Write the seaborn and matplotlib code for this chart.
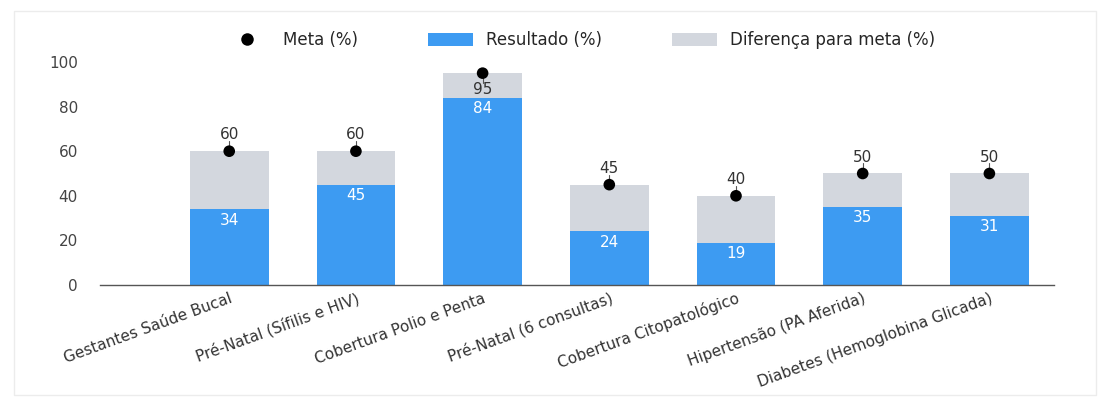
import numpy as np
import pandas as pd
import matplotlib
matplotlib.use("Agg")
import matplotlib.pyplot as plt
from matplotlib.patches import Rectangle, Patch
from matplotlib.lines import Line2D
import seaborn as sns

categorias = [
    "Gestantes Saúde Bucal",
    "Pré-Natal (Sífilis e HIV)",
    "Cobertura Polio e Penta",
    "Pré-Natal (6 consultas)",
    "Cobertura Citopatológico",
    "Hipertensão (PA Aferida)",
    "Diabetes (Hemoglobina Glicada)",
]
resultado = [34, 45, 84, 24, 19, 35, 31]
meta = [60, 60, 95, 45, 40, 50, 50]

AZUL = "#3d9bf2"
CINZA = "#d3d7de"

sns.set_theme(style="white")
plt.rcParams["font.family"] = ["DejaVu Sans"]

df = pd.DataFrame({"categoria": categorias, "resultado": resultado, "meta": meta})
df["diferenca"] = df["meta"] - df["resultado"]

fig = plt.figure(figsize=(11.10, 4.01), dpi=100)
ax = fig.add_axes([100 / 1110, 116 / 401, 954 / 1110, 223 / 401])

# gray = full meta height, blue drawn over it -> stacked look
sns.barplot(data=df, x="categoria", y="meta", color=CINZA, width=0.62,
            saturation=1, linewidth=0, ax=ax)
sns.barplot(data=df, x="categoria", y="resultado", color=AZUL, width=0.62,
            saturation=1, linewidth=0, ax=ax)
sns.scatterplot(data=df, x="categoria", y="meta", color="black", s=70,
                edgecolor="none", zorder=5, ax=ax)

# labels
for i, row in df.iterrows():
    ax.text(i, row["resultado"] - 1.5, f"{row['resultado']}", ha="center",
            va="top", color="white", fontsize=11)
    if row["meta"] > 90:
        ax.plot([i, i], [row["meta"], row["meta"] - 4.5], color="#555555", lw=0.8)
        ax.text(i, row["meta"] - 4, f"{row['meta']}", ha="center", va="top",
                color="#333333", fontsize=11)
    else:
        ax.plot([i, i], [row["meta"], row["meta"] + 4.5], color="#555555", lw=0.8)
        ax.text(i, row["meta"] + 4, f"{row['meta']}", ha="center",
                va="bottom", color="#333333", fontsize=11)

ax.set_ylim(0, 100)
ax.set_xlim(-1.02, 6.51)
ax.set_yticks([0, 20, 40, 60, 80, 100])
ax.tick_params(axis="y", length=0, pad=16, labelsize=11, labelcolor="#444444")
ax.tick_params(axis="x", length=0, pad=4, labelsize=11, labelcolor="#333333")
plt.setp(ax.get_xticklabels(), rotation=20, ha="right", rotation_mode="anchor")
ax.set_xlabel("")
ax.set_ylabel("")
for side in ["top", "right", "left"]:
    ax.spines[side].set_visible(False)
ax.spines["bottom"].set_color("#555555")
ax.spines["bottom"].set_linewidth(1.0)

handles = [
    Line2D([0], [0], marker="o", color="none", markerfacecolor="black",
           markeredgecolor="none", markersize=9),
    Patch(facecolor=AZUL, edgecolor="none"),
    Patch(facecolor=CINZA, edgecolor="none"),
]
fig.legend(handles, ["Meta (%)", "Resultado (%)", "Diferença para meta (%)"],
           loc="center", bbox_to_anchor=(580 / 1110, 1 - 40 / 401), ncol=3,
           frameon=False, fontsize=12, handlelength=2.7, handleheight=0.8,
           columnspacing=4.2, handletextpad=0.8)

fig.patches.append(Rectangle((14 / 1110, 6 / 401), 1082 / 1110, 384 / 401,
                             transform=fig.transFigure, fill=False,
                             edgecolor="#ececec", lw=1.0))

fig.savefig("out.png", dpi=100)
